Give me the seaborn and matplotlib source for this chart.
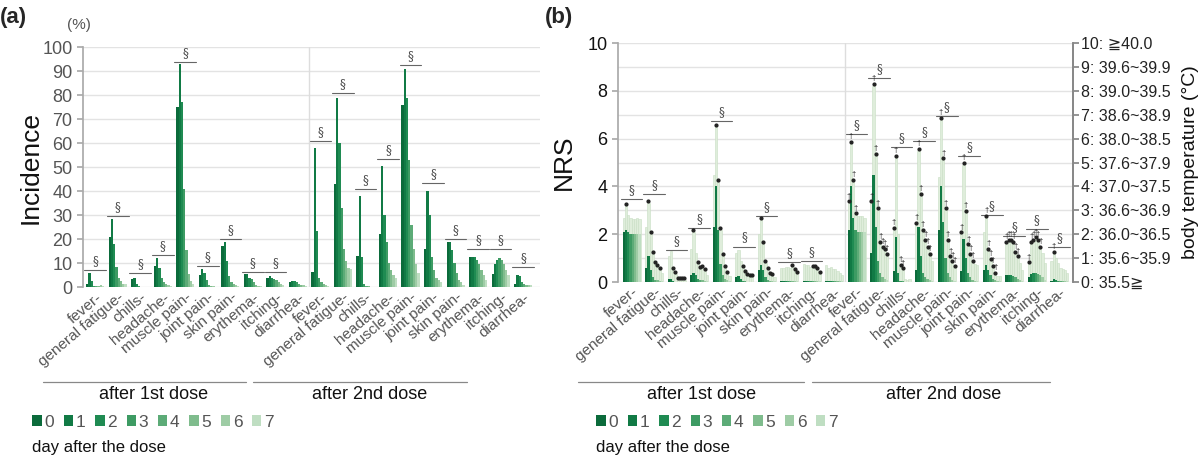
import matplotlib
matplotlib.use("Agg")
import matplotlib.pyplot as plt
from matplotlib.patches import Patch
from matplotlib.lines import Line2D
import numpy as np
import pandas as pd
import seaborn as sns

# ---- data -------------------------------------------------------------
symptoms = ["fever", "general fatigue", "chills", "headache", "muscle pain",
            "joint pain", "skin pain", "erythema", "itching", "diarrhea"]
days = ["0", "1", "2", "3", "4", "5", "6", "7"]

# (a) incidence (%) per day, 1st dose then 2nd dose
inc_1st = [
    [1.5, 6, 2.5, 0.5, 0.3, 0.5, 1, 0.5],
    [21, 28.5, 18, 8.5, 4, 2.5, 1.5, 1.5],
    [3.5, 4, 1.5, 0.5, 0.2, 0.1, 0.1, 0.1],
    [9, 12, 8, 4, 2, 1.5, 1, 0.5],
    [75, 93, 77, 41, 15.5, 5.5, 2.5, 1.5],
    [5, 7.5, 6, 3, 1, 0.5, 0.3, 0.2],
    [17, 19, 11, 4.5, 2, 1.5, 1, 0.5],
    [5.5, 5.5, 4, 3.5, 2, 1, 0.5, 0.3],
    [4, 4.5, 4, 3.5, 3, 2, 1.5, 1],
    [2, 2.5, 2.5, 2, 1.5, 1, 1, 0.5],
]
inc_2nd = [
    [6.5, 58, 23.5, 4, 2, 1.5, 1, 0.5],
    [43, 79, 60, 33, 16, 11, 8, 7.5],
    [13, 38, 12.5, 1.5, 0.5, 0.3, 0.2, 0.1],
    [22, 50.5, 30, 19, 10, 7, 5, 4],
    [76, 91, 79, 53, 26, 16, 9.5, 6],
    [16, 40, 30, 12.5, 7, 4, 3, 2],
    [19, 19, 15.5, 10, 6, 3, 2, 1],
    [12.5, 12.5, 12.5, 11.5, 9.5, 7, 5, 3],
    [5.5, 9.5, 11.5, 12, 11.5, 9.5, 7, 5],
    [1.5, 5, 4.5, 2, 1.5, 1, 1, 0.8],
]
sig_a = [7, 29.5, 6, 13.5, 94, 8.7, 20, 6.5, 6.2, None,
         61, 81, 41, 53.5, 92.5, 43.3, 20, 15.7, 15.7, 8.3]

# (b) NRS mean and mean+SD per day
nrs_1st = [
    [2.1, 2.2, 2.1, 2.0, 2.0, 2.0, 2.0, 2.0],
    [0.6, 1.1, 0.5, 0.2, 0.1, 0.1, 0.05, 0.05],
    [0.15, 0.15, 0.05, 0.02, 0.02, 0.02, 0.02, 0.02],
    [0.3, 0.4, 0.3, 0.15, 0.1, 0.1, 0.05, 0.05],
    [2.3, 4.0, 2.2, 0.75, 0.3, 0.15, 0.1, 0.05],
    [0.2, 0.25, 0.15, 0.05, 0.03, 0.02, 0.02, 0.02],
    [0.5, 0.7, 0.5, 0.2, 0.1, 0.05, 0.05, 0.05],
    [0.05, 0.05, 0.05, 0.05, 0.05, 0.04, 0.03, 0.03],
    [0.05, 0.05, 0.05, 0.05, 0.05, 0.04, 0.03, 0.03],
    [0.03, 0.03, 0.03, 0.03, 0.03, 0.03, 0.03, 0.03],
]
upper_1st = [
    [2.7, 3.2, 2.8, 2.7, 2.65, 2.65, 2.7, 2.65],
    [2.3, 3.3, 2.0, 1.2, 0.75, 0.65, 0.5, 0.4],
    [1.1, 1.3, 0.5, 0.35, 0.1, 0.1, 0.1, 0.1],
    [1.4, 2.1, 1.2, 0.75, 0.55, 0.6, 0.45, 0.3],
    [4.5, 6.5, 4.2, 2.2, 1.1, 0.6, 0.35, 0.25],
    [1.2, 1.35, 0.9, 0.6, 0.4, 0.25, 0.2, 0.2],
    [2.0, 2.6, 1.6, 0.8, 0.5, 0.3, 0.25, 0.2],
    [0.6, 0.6, 0.65, 0.65, 0.6, 0.65, 0.45, 0.35],
    [0.75, 0.7, 0.7, 0.65, 0.6, 0.6, 0.5, 0.35],
    [0.7, 0.6, 0.65, 0.55, 0.55, 0.45, 0.4, 0.3],
]
nrs_2nd = [
    [2.2, 4.0, 2.7, 2.2, 2.1, 2.1, 2.1, 2.1],
    [1.2, 4.5, 2.3, 0.9, 0.4, 0.2, 0.15, 0.1],
    [0.45, 1.9, 0.4, 0.05, 0.03, 0.02, 0.02, 0.02],
    [0.5, 2.3, 1.1, 0.4, 0.2, 0.15, 0.1, 0.05],
    [2.2, 4.0, 2.5, 1.0, 0.4, 0.2, 0.1, 0.05],
    [0.45, 1.8, 1.0, 0.4, 0.2, 0.1, 0.05, 0.05],
    [0.5, 0.7, 0.5, 0.3, 0.15, 0.1, 0.05, 0.05],
    [0.3, 0.3, 0.3, 0.25, 0.2, 0.15, 0.1, 0.05],
    [0.2, 0.35, 0.4, 0.4, 0.35, 0.3, 0.2, 0.1],
    [0.05, 0.15, 0.1, 0.05, 0.05, 0.03, 0.03, 0.03],
]
upper_2nd = [
    [3.3, 5.8, 4.2, 2.8, 2.75, 2.75, 2.75, 2.7],
    [3.3, 8.2, 5.3, 3.0, 1.6, 1.4, 1.3, 1.1],
    [2.2, 5.2, 2.0, 0.65, 0.5, 0.15, 0.1, 0.15],
    [2.4, 5.5, 3.6, 2.1, 1.7, 1.4, 1.1, 0.9],
    [4.4, 6.8, 5.1, 3.0, 1.7, 1.0, 0.8, 0.6],
    [2.0, 4.9, 2.9, 1.5, 1.1, 0.8, 0.75, 0.7],
    [2.1, 2.7, 1.3, 0.9, 0.6, 0.3, 0.25, 0.25],
    [1.6, 1.7, 1.7, 1.6, 1.2, 1.0, 0.8, 0.5],
    [0.75, 1.6, 1.7, 1.8, 1.7, 1.4, 1.2, 0.8],
    [0.9, 1.2, 1.0, 0.8, 0.6, 0.55, 0.5, 0.4],
]
# days marked with a dot (1st dose) / dot + dagger (2nd dose)
mark_1st = [[1], [1, 2, 3, 4, 5, 6], [2, 3, 4, 5, 6, 7], [1, 3, 4, 5, 6],
            [1, 2, 3, 4, 5, 6], [3, 4, 5, 6, 7], [1, 2, 3, 4, 5, 6],
            [5, 6, 7], [4, 5, 6, 7], []]
mark_2nd = [[0, 1, 2, 3], [0, 1, 2, 3, 4, 5, 6, 7], [0, 1, 3, 4], [0, 1, 2, 3, 4, 5, 6],
            [1, 2, 3, 4, 5, 6, 7], [0, 1, 2, 3, 4, 5], [1, 2, 3, 4, 5],
            [0, 1, 2, 3, 4, 5], [0, 1, 2, 3, 4, 5], [1]]
sig_b = [3.49, 3.68, 1.35, 2.26, 6.75, 1.49, 2.75, 0.84, 0.89, None,
         6.19, 8.52, 5.66, 5.89, 6.93, 5.26, 2.82, 1.94, 2.22, 1.46]

temp_labels = ["0: 35.5≧", "1: 35.6~35.9", "2: 36.0~36.5", "3: 36.6~36.9",
               "4: 37.0~37.5", "5: 37.6~37.9", "6: 38.0~38.5", "7: 38.6~38.9",
               "8: 39.0~39.5", "9: 39.6~39.9", "10: ≧40.0"]

colors = ["#0b6b3b", "#117a45", "#1f8b52", "#3d9b63", "#5cab77",
          "#7fbc8d", "#9ecca5", "#bfdec2"]
light = "#dfeddb"

# ---- tidy frames ------------------------------------------------------
groups = [f"{d}_{s}" for d in ("1st", "2nd") for s in symptoms]
labels = [s + "-" for s in symptoms] * 2


def to_frame(first, second):
    rows = []
    for g, vals in zip(groups, first + second):
        for d, v in zip(days, vals):
            rows.append((g, d, v))
    return pd.DataFrame(rows, columns=["grp", "day", "val"])


df_a = to_frame(inc_1st, inc_2nd)
df_b = to_frame(nrs_1st, nrs_2nd)
df_bu = to_frame(upper_1st, upper_2nd)

sns.set_theme(style="white")
plt.rcParams["font.family"] = ["Liberation Sans", "DejaVu Sans", "Noto Sans CJK JP"]

fig = plt.figure(figsize=(12, 4.58), dpi=100)
ax_a = fig.add_axes([0.069, 0.373, 0.381, 0.524])
ax_b = fig.add_axes([0.515, 0.384, 0.379, 0.522])

W = 0.8
bw = W / 8


def bar_x(i, d):
    return i - W / 2 + (d + 0.5) * bw


def draw_sig(ax, heights, dy, fs):
    for i, h in enumerate(heights):
        if h is None:
            continue
        ax.plot([i - 0.48, i + 0.48], [h, h], color="#666666", lw=0.8, zorder=5)
        ax.text(i, h + dy, "§", ha="center", va="bottom", fontsize=fs,
                color="#444444", family="DejaVu Serif", zorder=5)


# ---- panel (a) --------------------------------------------------------
sns.barplot(data=df_a, x="grp", y="val", hue="day", order=groups, hue_order=days,
            palette=colors, width=W, saturation=1, errorbar=None, linewidth=0,
            legend=False, ax=ax_a, zorder=3)
ax_a.set_ylim(0, 100)
ax_a.set_xlim(-0.55, 19.75)
ax_a.set_yticks(range(0, 101, 10))
ax_a.yaxis.grid(True, color="#e3e3e3", lw=1)
ax_a.set_axisbelow(True)
ax_a.axvline(9.5, color="#dddddd", lw=1, zorder=1)
for sp in ("top", "right", "bottom"):
    ax_a.spines[sp].set_visible(False)
ax_a.spines["left"].set_color("#aaaaaa")
ax_a.tick_params(axis="y", labelsize=13, colors="#555555", length=4, color="#aaaaaa", left=True)
ax_a.tick_params(axis="x", length=0, pad=2)
ax_a.set_xticks(range(20))
ax_a.set_xticklabels(labels, rotation=40, ha="right", rotation_mode="anchor",
                     fontsize=11, color="#555555")
ax_a.set_xlabel("")
ax_a.set_ylabel("Incidence", fontsize=19, color="#111111", labelpad=0)
draw_sig(ax_a, sig_a, 0.8, 8.5)

# ---- panel (b) --------------------------------------------------------
sns.barplot(data=df_bu, x="grp", y="val", hue="day", order=groups, hue_order=days,
            palette=[light] * 8, width=W, saturation=1, errorbar=None,
            edgecolor="#c8dec3", linewidth=0.4, legend=False, ax=ax_b, zorder=2)
sns.barplot(data=df_b, x="grp", y="val", hue="day", order=groups, hue_order=days,
            palette=colors, width=W, saturation=1, errorbar=None, linewidth=0,
            legend=False, ax=ax_b, zorder=3)
for i in range(10):
    for d in mark_1st[i]:
        ax_b.plot(bar_x(i, d), upper_1st[i][d] + 0.08, "o", ms=2.0, color="#222222", zorder=6)
    for d in mark_2nd[i]:
        ax_b.plot(bar_x(i + 10, d), upper_2nd[i][d] + 0.08, "o", ms=2.0, color="#222222", zorder=6)
        ax_b.text(bar_x(i + 10, d), upper_2nd[i][d] + 0.15, "†", ha="center", va="bottom",
                  fontsize=5.5, color="#222222", zorder=6)
ax_b.set_ylim(0, 10)
ax_b.set_xlim(-0.6, 19.6)
ax_b.set_yticks(range(0, 11, 2))
ax_b.set_yticks(range(0, 11), minor=True)
ax_b.yaxis.grid(True, which="both", color="#e3e3e3", lw=1)
ax_b.set_axisbelow(True)
ax_b.axvline(9.5, color="#dddddd", lw=1, zorder=1)
for sp in ("top", "bottom"):
    ax_b.spines[sp].set_visible(False)
ax_b.spines["left"].set_color("#aaaaaa")
ax_b.spines["right"].set_color("#888888")
ax_b.tick_params(axis="y", which="major", labelsize=13, colors="#111111", length=4,
                 color="#aaaaaa", left=True)
ax_b.tick_params(axis="y", which="minor", length=0)
ax_b.tick_params(axis="x", length=0, pad=2)
ax_b.set_xticks(range(20))
ax_b.set_xticklabels(labels, rotation=40, ha="right", rotation_mode="anchor",
                     fontsize=11, color="#555555")
ax_b.set_xlabel("")
ax_b.set_ylabel("NRS", fontsize=19, color="#111111", labelpad=8)
draw_sig(ax_b, sig_b, 0.08, 8.5)

ax_t = ax_b.twinx()
ax_t.set_ylim(0, 10)
ax_t.set_yticks(range(11))
ax_t.set_yticklabels(temp_labels, fontsize=11.5, color="#222222")
ax_t.tick_params(axis="y", length=4, color="#888888", right=True, pad=2)
for sp in ("top", "bottom", "left"):
    ax_t.spines[sp].set_visible(False)
ax_t.spines["right"].set_color("#888888")
ax_t.set_ylabel("body temperature (°C)", fontsize=14, color="#111111",
                rotation=90, labelpad=8)
ax_t.grid(False)

# ---- panel letters, dose brackets, legends ----------------------------
fig.text(0.0, 0.962, "(a)", fontsize=16, fontweight="bold", va="center", ha="left")
fig.text(0.454, 0.962, "(b)", fontsize=16, fontweight="bold", va="center", ha="left")
fig.text(0.056, 0.945, "(%)", fontsize=11, color="#555555", va="center")


def dose_bracket(x0, x1, xm, label):
    fig.add_artist(Line2D([x0, x1], [0.166, 0.166], transform=fig.transFigure,
                          color="#888888", lw=0.9))
    fig.text(xm, 0.138, label, ha="center", va="center", fontsize=13, color="#111111")


dose_bracket(0.036, 0.205, 0.128, "after 1st dose")
dose_bracket(0.211, 0.389, 0.308, "after 2nd dose")
dose_bracket(0.482, 0.670, 0.585, "after 1st dose")
dose_bracket(0.677, 0.875, 0.786, "after 2nd dose")

handles = [Patch(facecolor=c, edgecolor="none") for c in colors]
for x0 in (0.027, 0.497):
    fig.legend(handles, days, loc="center left", bbox_to_anchor=(x0, 0.078),
               ncol=8, frameon=False, fontsize=12.5, handlelength=0.55,
               handleheight=0.55, handletextpad=0.15, columnspacing=0.55,
               labelcolor="#555555", borderaxespad=0, borderpad=0)
    fig.text(x0, 0.024, "day after the dose", fontsize=12, color="#111111",
             va="center")

fig.savefig("out.png", dpi=100)
